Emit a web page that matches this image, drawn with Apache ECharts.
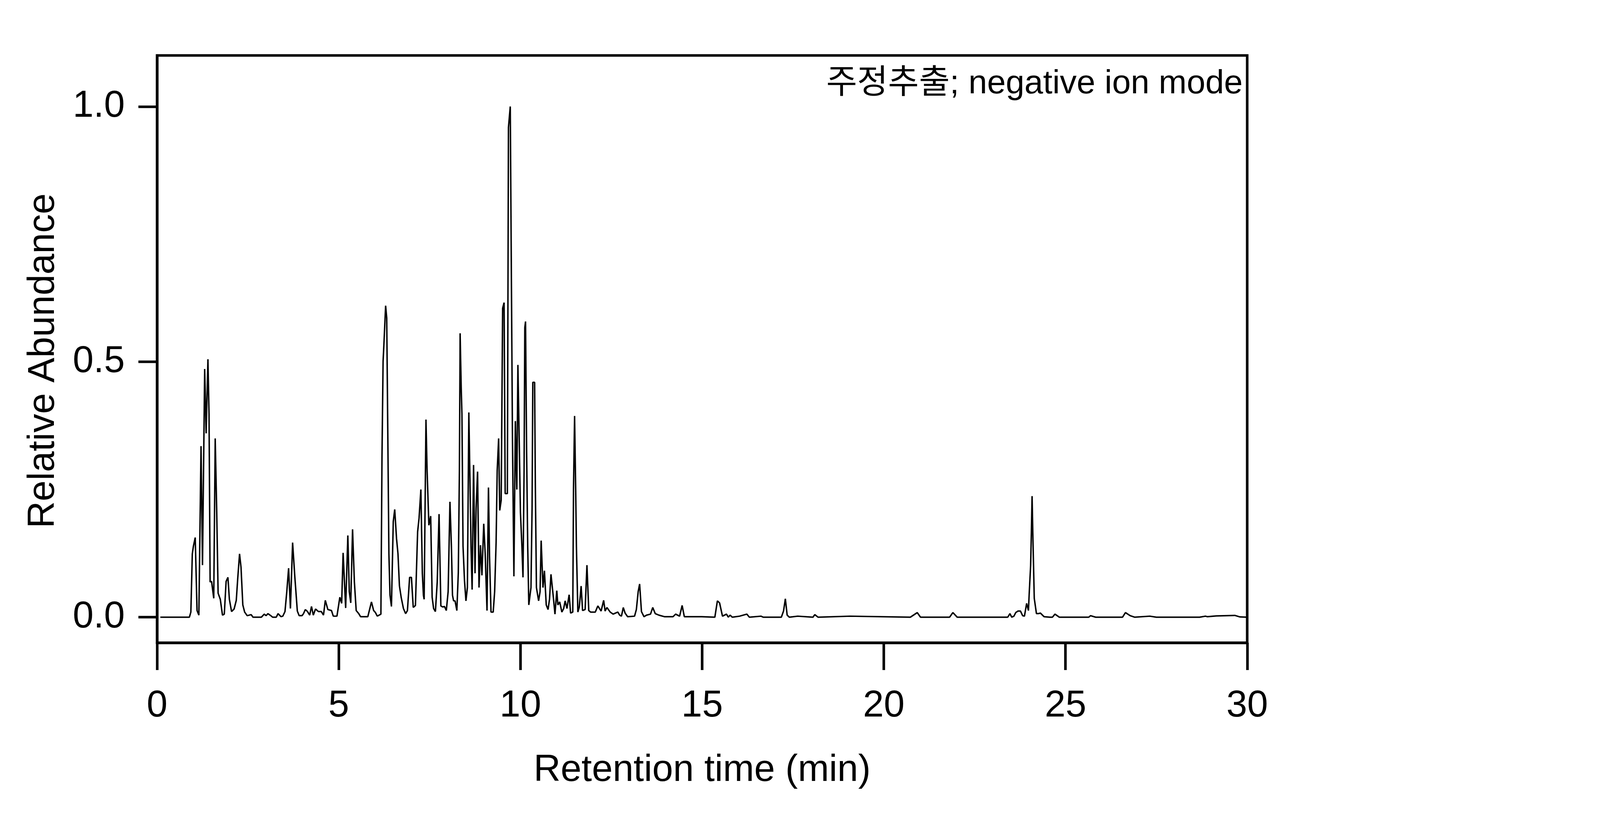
<!DOCTYPE html>
<html>
<head>
<meta charset="utf-8">
<title>Relative Abundance - negative ion mode</title>
<script src="https://cdn.jsdelivr.net/npm/echarts@6.0.0/dist/echarts.min.js"></script>
<style>
	html,body{margin:0;padding:0;background:#fff;overflow:hidden;}
	#chart{width:100vw;height:100vh;}
</style>
</head>
<body>
<div id="chart"></div>
<script>
	// 크로마토그램 값 (분, 상대 강도) - 그림에서 읽은 값
	var retentionTime=[0.09,0.89,0.93,0.97,1.00,1.05,1.10,1.15,1.21,1.25,1.31,1.35,1.40,1.43,1.46,1.50,1.56,1.60,1.64,1.68,
		1.74,1.80,1.85,1.90,1.95,1.99,2.05,2.12,2.18,2.22,2.27,2.31,2.36,2.41,2.48,2.59,2.64,2.87,2.95,3.00,
		3.05,3.13,3.18,3.28,3.33,3.41,3.46,3.52,3.57,3.62,3.67,3.73,3.79,3.86,3.91,3.99,4.03,4.08,4.14,4.20,
		4.25,4.30,4.36,4.44,4.52,4.58,4.63,4.70,4.80,4.85,4.95,5.03,5.08,5.12,5.19,5.25,5.29,5.33,5.38,5.43,
		5.48,5.55,5.60,5.80,5.90,5.96,6.01,6.06,6.16,6.19,6.22,6.24,6.29,6.32,6.34,6.38,6.41,6.45,6.50,6.54,
		6.59,6.63,6.67,6.72,6.78,6.84,6.89,6.95,7.00,7.05,7.11,7.17,7.21,7.26,7.30,7.33,7.35,7.40,7.43,7.48,
		7.53,7.57,7.61,7.66,7.71,7.76,7.81,7.86,7.91,7.96,8.01,8.06,8.10,8.13,8.16,8.20,8.25,8.29,8.32,8.34,
		8.37,8.39,8.42,8.46,8.50,8.54,8.58,8.61,8.64,8.67,8.71,8.75,8.78,8.82,8.86,8.90,8.94,8.99,9.03,9.08,
		9.12,9.15,9.19,9.25,9.29,9.33,9.36,9.40,9.43,9.47,9.51,9.55,9.58,9.64,9.67,9.72,9.74,9.78,9.82,9.86,
		9.90,9.93,9.97,10.00,10.04,10.07,10.10,10.12,10.14,10.17,10.20,10.23,10.29,10.32,10.34,10.39,10.41,10.44,10.50,10.54,
		10.57,10.62,10.66,10.71,10.76,10.80,10.84,10.90,10.95,11.00,11.03,11.08,11.14,11.19,11.23,11.28,11.34,11.38,11.44,11.46,
		11.49,11.52,11.54,11.58,11.62,11.67,11.71,11.78,11.83,11.88,11.93,12.06,12.13,12.22,12.29,12.33,12.38,12.47,12.55,12.68,
		12.73,12.78,12.83,12.88,12.95,13.14,13.19,13.24,13.28,13.33,13.40,13.47,13.58,13.64,13.71,13.81,13.96,14.20,14.27,14.38,
		14.45,14.51,14.99,15.35,15.42,15.48,15.56,15.67,15.72,15.77,15.83,16.03,16.23,16.30,16.62,16.68,17.18,17.24,17.29,17.34,
		17.40,17.63,18.05,18.10,18.19,19.07,20.73,20.92,21.01,21.81,21.90,22.02,22.83,23.41,23.47,23.52,23.58,23.63,23.69,23.76,
		23.82,23.87,23.93,23.98,24.00,24.04,24.06,24.08,24.10,24.12,24.14,24.20,24.25,24.31,24.41,24.57,24.64,24.71,24.83,25.64,
		25.69,25.83,26.57,26.65,26.78,26.90,27.32,27.50,28.69,28.85,28.90,29.15,29.66,29.80,30.00];
	var relAbundance=[0,0,0.010,0.124,0.139,0.156,0.013,0.004,0.335,0.102,0.486,0.360,0.505,0.398,0.069,0.070,0.037,0.350,0.213,0.047,
		0.035,0.004,0.006,0.070,0.078,0.035,0.011,0.016,0.033,0.076,0.124,0.098,0.024,0.010,0.003,0.005,0,0,0.006,0.003,
		0.007,0.003,0,0,0.007,0.001,0.002,0.011,0.050,0.096,0.017,0.146,0.080,0.012,0.003,0.003,0.007,0.015,0.011,0.004,
		0.021,0.004,0.016,0.011,0.011,0.004,0.033,0.015,0.013,0.002,0.002,0.039,0.027,0.126,0.018,0.160,0.050,0.028,0.172,0.069,
		0.013,0.007,0.001,0.001,0.030,0.013,0.009,0.002,0.006,0.316,0.501,0.530,0.610,0.586,0.435,0.124,0.043,0.021,0.187,0.211,
		0.154,0.124,0.061,0.038,0.017,0.007,0.013,0.078,0.078,0.019,0.023,0.167,0.194,0.250,0.086,0.043,0.035,0.387,0.290,0.180,
		0.198,0.039,0.017,0.011,0.069,0.202,0.022,0.020,0.021,0.013,0.050,0.226,0.139,0.043,0.032,0.032,0.013,0.087,0.287,0.556,
		0.449,0.398,0.139,0.072,0.032,0.058,0.401,0.272,0.139,0.054,0.298,0.086,0.213,0.285,0.058,0.141,0.082,0.183,0.124,0.013,
		0.254,0.117,0.010,0.010,0.050,0.146,0.287,0.350,0.209,0.229,0.605,0.616,0.242,0.242,0.959,1.000,0.782,0.353,0.080,0.384,
		0.250,0.494,0.331,0.205,0.139,0.078,0.287,0.567,0.579,0.324,0.139,0.024,0.058,0.213,0.460,0.460,0.257,0.058,0.032,0.050,
		0.150,0.058,0.091,0.024,0.015,0.035,0.084,0.043,0.006,0.052,0.024,0.030,0.010,0.017,0.032,0.017,0.044,0.008,0.010,0.250,
		0.394,0.250,0.139,0.010,0.020,0.061,0.013,0.015,0.102,0.013,0.010,0.010,0.022,0.012,0.033,0.012,0.019,0.010,0.006,0.010,
		0.004,0.002,0.019,0.008,0.001,0.002,0.015,0.050,0.065,0.011,0.001,0.004,0.006,0.019,0.007,0.004,0.001,0.001,0.006,0.002,
		0.023,0.001,0.001,0,0.032,0.028,0.002,0.006,0,0.004,0,0.002,0.006,0,0.002,0,0,0.012,0.036,0.004,
		0,0.002,0,0.005,0,0.002,0,0.009,0,0,0.009,0,0,0,0.007,0,0.002,0.009,0.012,0.012,
		0.003,0.002,0.027,0.013,0.045,0.101,0.165,0.237,0.165,0.101,0.037,0.007,0.007,0.008,0.001,0,0,0.006,0,0,
		0.003,0,0,0.009,0.003,0,0.002,0,0,0.002,0.001,0.0025,0.0035,0.0005,0];
	var xTicks=[0,5,10,15,20,25,30];
	var yTicks=[0,0.5,1.0];
	var annotation="주정추출; negative ion mode";

	var font="'Liberation Sans', Arial, 'Noto Sans CJK KR', sans-serif";

	// 원본 6000x2100 기준 좌표를 실제 창 크기에 맞춤 (가로/세로 따로)
	var sx=window.innerWidth/6000;
	var sy=window.innerHeight/2100;
	var sf=Math.sqrt(sx*sy);

	var points=[];
	for(var i=0;i<retentionTime.length;i++){
		points.push([retentionTime[i],relAbundance[i]]);
	}

	var option={
		animation:false,
		backgroundColor:"#fff",
		title:{
			text:annotation,
			right:1340*sx,
			top:172*sy,
			padding:0,
			textStyle:{fontFamily:font,fontSize:104*sf,fontWeight:"normal",color:"#000"}
		},
		grid:{
			left:589*sx,
			right:1323*sx,
			top:142*sy,
			bottom:454*sy,
			show:true,
			borderColor:"#000",
			borderWidth:8*sf,
			containLabel:false
		},
		xAxis:{
			type:"value",
			min:xTicks[0],
			max:xTicks[xTicks.length-1],
			interval:5,
			name:"Retention time (min)",
			nameLocation:"middle",
			nameGap:280*sy,
			nameTextStyle:{fontFamily:font,fontSize:116*sf,color:"#000"},
			axisLine:{show:true,onZero:false,lineStyle:{color:"#000",width:8*sf}},
			axisTick:{show:true,inside:false,length:70*sy,lineStyle:{color:"#000",width:8*sf}},
			axisLabel:{fontFamily:font,fontSize:116*sf,color:"#000",margin:115*sy},
			splitLine:{show:false}
		},
		yAxis:{
			type:"value",
			min:-0.05,
			max:1.1,
			name:"Relative Abundance",
			nameLocation:"middle",
			nameGap:355*sx,
			nameTextStyle:{fontFamily:font,fontSize:116*sf,color:"#000",padding:[0,60*sy,0,0]},
			axisLine:{show:true,onZero:false,lineStyle:{color:"#000",width:8*sf}},
			axisTick:{show:true,inside:false,length:70*sx,customValues:yTicks,lineStyle:{color:"#000",width:8*sf}},
			axisLabel:{fontFamily:font,fontSize:116*sf,color:"#000",margin:121*sx,customValues:yTicks,
				formatter:function(v){return v.toFixed(1);}},
			splitLine:{show:false}
		},
		series:[{
			type:"line",
			data:points,
			symbol:"none",
			smooth:false,
			lineStyle:{color:"#000",width:4.5*sf},
			clip:true
		}]
	};

	var myChart=echarts.init(document.getElementById("chart"));
	myChart.setOption(option);
</script>
</body>
</html>
